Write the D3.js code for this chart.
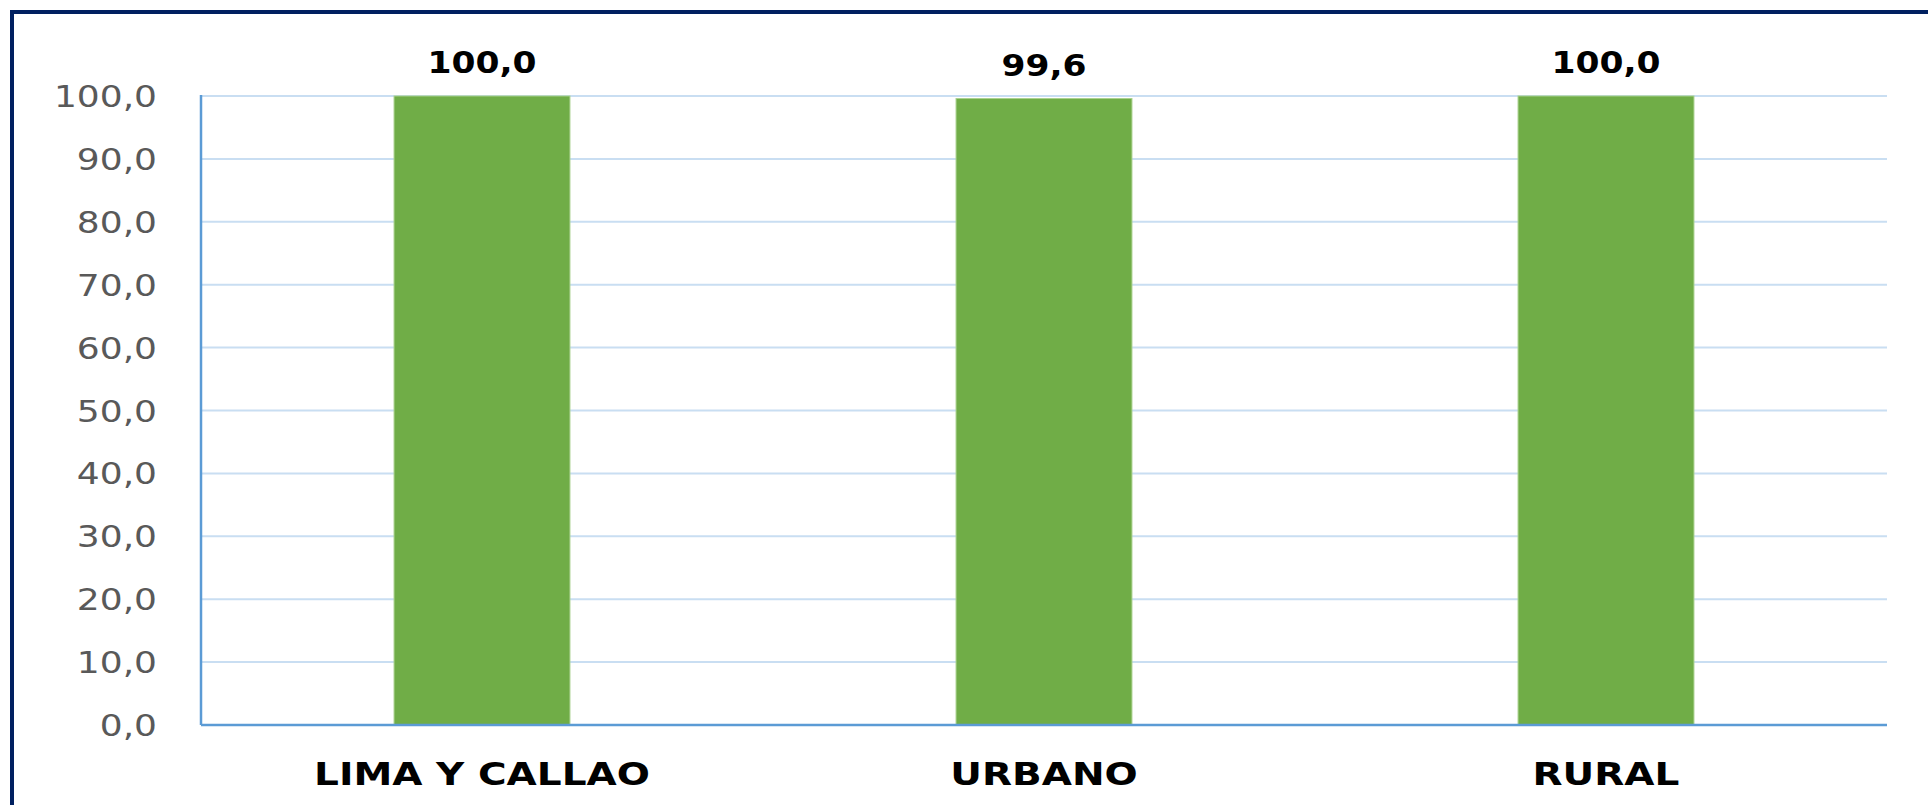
<!DOCTYPE html>
<html>
<head>
  <meta charset="utf-8">
  <script src="https://d3js.org/d3.v7.min.js"></script>
  <style>
    body { margin: 0; background: #fff; }
    text { font-family: "DejaVu Sans", Verdana, sans-serif; }
  </style>
</head>
<body>
  <script>

    var categories = ['LIMA Y CALLAO', 'URBANO', 'RURAL'];
    var values = [100.0, 99.6, 100.0];
    var yTicks = [0, 10, 20, 30, 40, 50, 60, 70, 80, 90, 100];

    var width = 1928,
        height = 805;

    // text in the picture is stretched sideways a bit
    var stretch = 1.2;

    var svg = d3.select('body')
      .append('svg')
      .attr('width', width)
      .attr('height', height);

    // frame, only top and left edges show
    svg.append('rect')
      .attr('x', 12)
      .attr('y', 12)
      .attr('width', width + 20)
      .attr('height', height + 20)
      .attr('fill', 'none')
      .attr('stroke', '#002060')
      .attr('stroke-width', 4);

    var plotL = 201, plotR = 1887, plotT = 96, plotB = 725;

    var x = d3.scaleBand()
      .domain(categories)
      .range([plotL, plotR])
      .padding(0);

    var y = d3.scaleLinear()
      .domain([0, 100])
      .range([plotB, plotT]);

    var fmt = function(v) { return v.toFixed(1).replace('.', ','); };

    // gridlines
    svg.append('g')
      .selectAll('line')
      .data(yTicks.filter(function(t) { return t > 0; }))
      .enter()
      .append('line')
      .attr('x1', plotL)
      .attr('x2', plotR)
      .attr('y1', function(d) { return y(d); })
      .attr('y2', function(d) { return y(d); })
      .attr('stroke', '#c9def2')
      .attr('stroke-width', 2);

    // y tick labels
    svg.append('g')
      .selectAll('text')
      .data(yTicks)
      .enter()
      .append('text')
      .attr('transform', function(d) {
        return 'translate(157,' + (y(d) + 11) + ') scale(' + stretch + ',1)';
      })
      .attr('text-anchor', 'end')
      .attr('font-size', 30)
      .attr('fill', '#595959')
      .text(function(d) { return fmt(d); });

    var barW = x.bandwidth() * 0.313;

    // bars
    svg.append('g')
      .selectAll('rect')
      .data(values)
      .enter()
      .append('rect')
      .attr('x', function(d, i) { return x(categories[i]) + (x.bandwidth() - barW) / 2; })
      .attr('y', function(d) { return y(d); })
      .attr('width', barW)
      .attr('height', function(d) { return plotB - y(d); })
      .attr('fill', '#70ad47')
      .attr('stroke', '#a9d18e')
      .attr('stroke-width', 1);

    // value labels
    svg.append('g')
      .selectAll('text')
      .data(values)
      .enter()
      .append('text')
      .attr('transform', function(d, i) {
        var cx = x(categories[i]) + x.bandwidth() / 2;
        return 'translate(' + cx + ',' + (y(d) - 23) + ') scale(1.15,1)';
      })
      .attr('text-anchor', 'middle')
      .attr('font-size', 30)
      .attr('font-weight', 'bold')
      .attr('fill', '#000')
      .text(function(d) { return fmt(d); });

    // axes lines
    svg.append('line')
      .attr('x1', plotL).attr('x2', plotL)
      .attr('y1', plotT - 1).attr('y2', plotB)
      .attr('stroke', '#5b9bd5')
      .attr('stroke-width', 2.5);

    svg.append('line')
      .attr('x1', plotL).attr('x2', plotR)
      .attr('y1', plotB).attr('y2', plotB)
      .attr('stroke', '#5b9bd5')
      .attr('stroke-width', 2.5);

    // category labels
    svg.append('g')
      .selectAll('text')
      .data(categories)
      .enter()
      .append('text')
      .attr('transform', function(d) {
        return 'translate(' + (x(d) + x.bandwidth() / 2) + ',785) scale(1.22,1)';
      })
      .attr('text-anchor', 'middle')
      .attr('font-size', 32)
      .attr('font-weight', 'bold')
      .attr('fill', '#000')
      .text(function(d) { return d; });

  </script>
</body>
</html>
